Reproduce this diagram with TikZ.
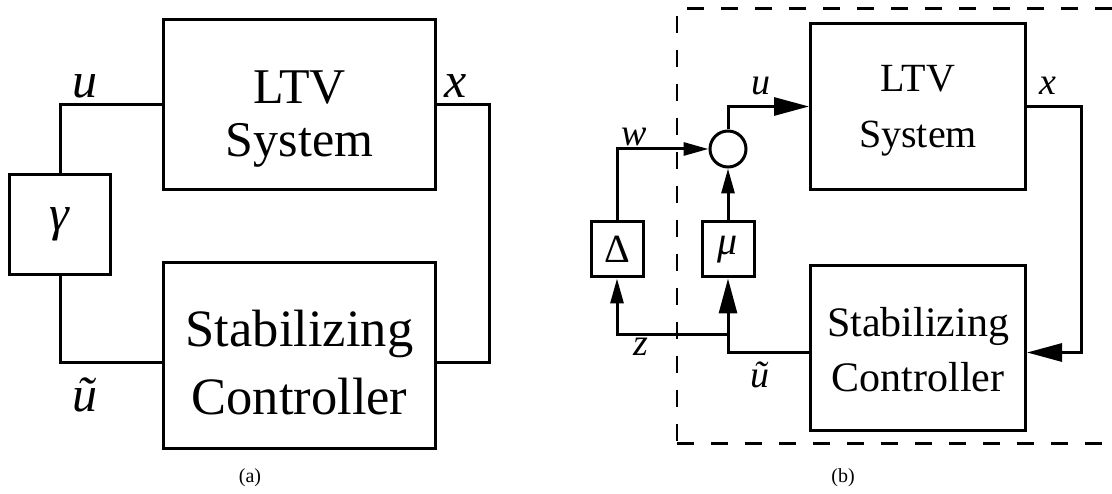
\documentclass[tikz,border=0pt]{standalone}
\usepackage{fontspec}
\setmainfont{Liberation Serif}
\usetikzlibrary{arrows.meta, positioning}

\begin{document}
\begin{tikzpicture}[
    x=1pt, y=-1pt,
    line width=3pt,
    blkA/.style={draw, line width=3pt, inner sep=0pt, align=center,
                font=\fontsize{50}{53}\selectfont},
    blkB/.style={draw, line width=3pt, inner sep=0pt, align=center,
                font=\fontsize{40}{56}\selectfont},
    smallblk/.style={draw, line width=3pt, inner sep=0pt,
                minimum width=52pt, minimum height=55pt,
                font=\fontsize{40}{44}\selectfont},
    lblA/.style={inner sep=0pt, anchor=base, font=\fontsize{50}{55}\selectfont},
    lblB/.style={inner sep=0pt, anchor=base, font=\fontsize{38}{42}\selectfont},
    caption/.style={font=\fontsize{20}{22}\selectfont},
    bigarrow/.style={-{Triangle[length=35pt, width=18pt]}},
    arrow/.style={-{Triangle[length=25pt, width=13pt]}},
    border/.style={line width=2.6pt, dash pattern=on 17pt off 17pt}
]
    \useasboundingbox (0,0) rectangle (1112,494);

    % (a)
    \node[blkA, minimum width=272pt, minimum height=170pt] (ltvA) at (299.5,104.5)
        {\rule{0pt}{61pt}LTV\\System};
    \node[blkA, minimum width=272pt, minimum height=186pt, below=70pt of ltvA,
          font=\fontsize{52.5}{68}\selectfont] (ctrlA) {\rule{0pt}{51pt}Stabilizing\\Controller};
    \node[blkA, minimum width=101pt, minimum height=100pt] (gain) at (60,224.5) {\textit{γ}};

    \draw (gain.north) |- (ltvA.west);
    \draw (gain.south) |- ([yshift=-7.5pt]ctrlA.west);
    \draw (ltvA.east) -- ++(52,0) |- ([yshift=-7.5pt]ctrlA.east);

    \node[lblA] (uA) at (85,98) {\textit{u}};
    \node[lblA] (xA) at (456,98) {\textit{x}};
    \node[lblA] (utA) at (85,412) {\textit{ũ}};
    \node[caption] (capA) at (250,478) {(a)};

    % (b)
    \node[blkB, minimum width=215pt, minimum height=166pt] (ltvB) at (918,106.5)
        {\rule{0pt}{35.5pt}LTV\\System};
    \node[blkB, minimum width=215pt, minimum height=165pt, below=73pt of ltvB,
          font=\fontsize{42}{55}\selectfont] (ctrlB) {\rule{0pt}{32pt}Stabilizing\\Controller};
    \node[circle, draw, minimum size=36pt, inner sep=0pt] (sum) at (728,149) {};
    \node[smallblk, below=52pt of sum] (mu) {\textit{μ}};
    \node[smallblk, left=56pt of mu] (delta) {Δ};

    \draw[bigarrow] (sum.north) |- (ltvB.west);
    \draw[bigarrow] (ltvB.east) -- ++(54,0) |- ([yshift=-4.5pt]ctrlB.east);
    \draw[bigarrow] ([yshift=-4.5pt]ctrlB.west) -| (mu.south);
    \coordinate (zsplit) at ([yshift=-56pt]mu.south);
    \draw[arrow] (zsplit) -| (delta.south);
    \draw[arrow] (delta.north) |- (sum.west);
    \draw[arrow] (mu.north) -- (sum.south);

    % dashed frame, cut off at the right
    \draw[border] (1111.7,8.3) -| (677,443.5);
    \draw[border] (677,443.5) -- (1112,443.5);

    \node[lblB] (uB) at (761,95) {\textit{u}};
    \node[lblB] (xB) at (1048,95) {\textit{x}};
    \node[lblB] (wB) at (634,146) {\textit{w}};
    \node[lblB] (zB) at (641,356) {\textit{z}};
    \node[lblB] (utB) at (760,388) {\textit{ũ}};
    \node[caption] (capB) at (843,478) {(b)};
\end{tikzpicture}
\end{document}
